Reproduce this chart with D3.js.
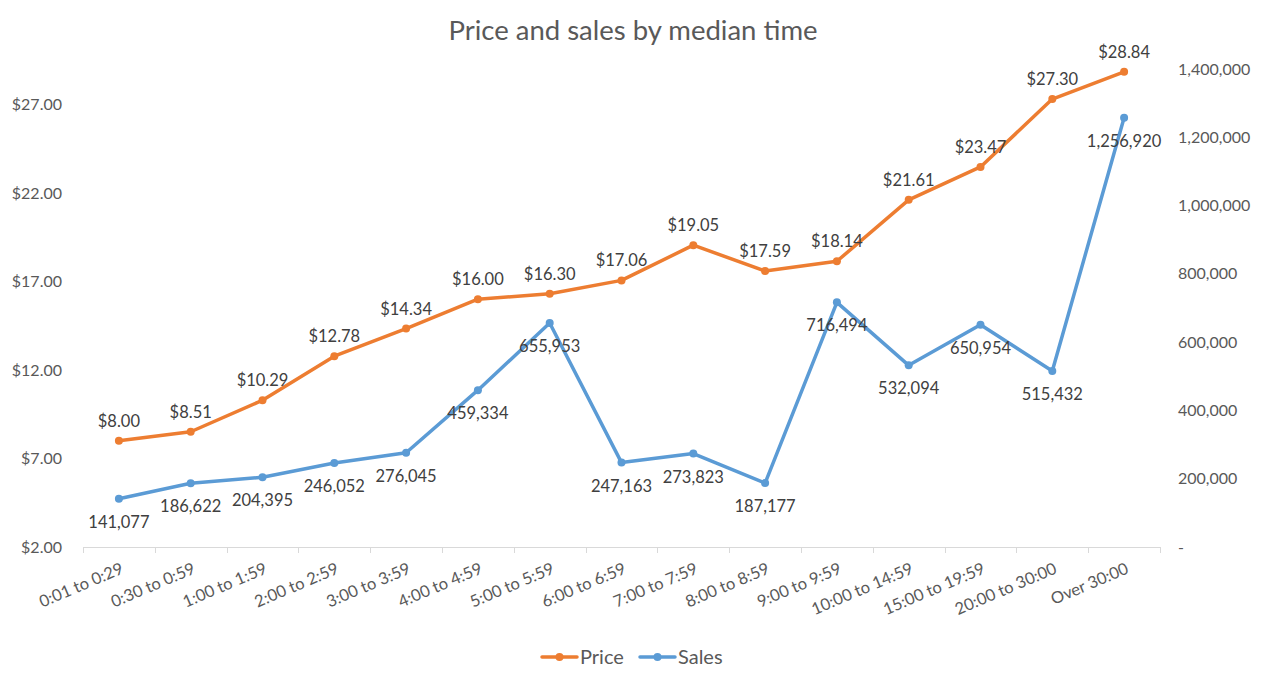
<!DOCTYPE html>
<html>
<head>
<meta charset="utf-8">
<script src="https://cdn.jsdelivr.net/npm/d3@7"></script>
<style>
  html, body { margin: 0; padding: 0; background: #fff; }
  svg { display: block; }
  text { font-family: Lato, "Open Sans", sans-serif; }
</style>
</head>
<body>
<svg id="chart" width="1265" height="686"></svg>
<script>
const categories = ["0:01 to 0:29","0:30 to 0:59","1:00 to 1:59","2:00 to 2:59","3:00 to 3:59","4:00 to 4:59","5:00 to 5:59","6:00 to 6:59","7:00 to 7:59","8:00 to 8:59","9:00 to 9:59","10:00 to 14:59","15:00 to 19:59","20:00 to 30:00","Over 30:00"];
const priceValues = [8.00, 8.51, 10.29, 12.78, 14.34, 16.00, 16.30, 17.06, 19.05, 17.59, 18.14, 21.61, 23.47, 27.30, 28.84];
const salesValues = [141077, 186622, 204395, 246052, 276045, 459334, 655953, 247163, 273823, 187177, 716494, 532094, 650954, 515432, 1256920];
const priceTicks = [2, 7, 12, 17, 22, 27];
const salesTicks = [0, 200000, 400000, 600000, 800000, 1000000, 1200000, 1400000];
const seriesNames = ["Price", "Sales"];
const title = "Price and sales by median time";

const colors = { Price: "#ED7D31", Sales: "#5B9BD5" };
const svg = d3.select("#chart");
const pLeft = 83, pRight = 1160, pTop = 69, pBottom = 547;

const x = d3.scaleBand().domain(categories).range([pLeft, pRight]).padding(0);
const yL = d3.scaleLinear().domain([2, 29]).range([pBottom, pTop]);
const yR = d3.scaleLinear().domain([0, 1400000]).range([pBottom, pTop]);
const cx = d => x(d) + x.bandwidth() / 2;

// Title
svg.append("text").attr("x", 633).attr("y", 40).attr("text-anchor", "middle")
  .attr("fill", "#595959").style("font-size", "27.5px").text(title);

// Left axis
const fmtPrice = d3.format("$.2f");
const axL = d3.axisLeft(yL).tickValues(priceTicks).tickFormat(fmtPrice).tickSize(0).tickPadding(21);
const gL = svg.append("g").attr("transform", `translate(${pLeft},0)`).call(axL);
gL.select(".domain").remove();
gL.selectAll("text").attr("fill", "#595959").style("font-size", "16px").style("font-family", "Lato, sans-serif");

// Right axis
const fmtSales = d => d === 0 ? "-" : d3.format(",")(d);
const axR = d3.axisRight(yR).tickValues(salesTicks).tickFormat(fmtSales).tickSize(0).tickPadding(18);
const gR = svg.append("g").attr("transform", `translate(${pRight},0)`).call(axR);
gR.select(".domain").remove();
gR.selectAll("text").attr("fill", "#595959").style("font-size", "16px").style("font-family", "Lato, sans-serif");

// Bottom axis line + ticks at band boundaries
const gB = svg.append("g");
gB.append("line").attr("x1", pLeft).attr("x2", pRight).attr("y1", pBottom + 0.5).attr("y2", pBottom + 0.5)
  .attr("stroke", "#D9D9D9").attr("stroke-width", 1);
const bounds = categories.map(c => x(c)).concat([pRight]);
gB.selectAll("line.tk").data(bounds).join("line").attr("class", "tk")
  .attr("x1", d => Math.round(d) + 0.5).attr("x2", d => Math.round(d) + 0.5)
  .attr("y1", pBottom).attr("y2", pBottom + 6).attr("stroke", "#D9D9D9");
gB.selectAll("text.cat").data(categories).join("text").attr("class", "cat")
  .attr("transform", d => `translate(${cx(d) + 1},${pBottom + 15}) rotate(-23)`)
  .attr("text-anchor", "end").attr("dy", "0.71em")
  .attr("fill", "#595959").style("font-size", "16.5px").text(d => d);

// Lines
function drawSeries(values, y, color) {
  const line = d3.line().x((d, i) => cx(categories[i])).y(d => y(d));
  svg.append("path").datum(values).attr("d", line).attr("fill", "none")
    .attr("stroke", color).attr("stroke-width", 3.5).attr("stroke-linejoin", "round").attr("stroke-linecap", "round");
  svg.append("g").selectAll("circle").data(values).join("circle")
    .attr("cx", (d, i) => cx(categories[i])).attr("cy", d => y(d)).attr("r", 4).attr("fill", color);
}
drawSeries(priceValues, yL, colors.Price);
drawSeries(salesValues, yR, colors.Sales);

// Data labels
svg.append("g").selectAll("text").data(priceValues).join("text")
  .attr("x", (d, i) => cx(categories[i])).attr("y", d => yL(d) - 14)
  .attr("text-anchor", "middle").attr("fill", "#404040").style("font-size", "16.5px")
  .text(d => fmtPrice(d));
svg.append("g").selectAll("text").data(salesValues).join("text")
  .attr("x", (d, i) => cx(categories[i])).attr("y", d => yR(d) + 29)
  .attr("text-anchor", "middle").attr("fill", "#404040").style("font-size", "16.5px")
  .text(d => d3.format(",")(d));

// Legend
const legend = svg.append("g");
const legendItems = [{ name: seriesNames[0], x0: 542 }, { name: seriesNames[1], x0: 640 }];
legendItems.forEach(it => {
  const c = colors[it.name];
  legend.append("line").attr("x1", it.x0).attr("x2", it.x0 + 35).attr("y1", 657).attr("y2", 657)
    .attr("stroke", c).attr("stroke-width", 3.5).attr("stroke-linecap", "round");
  legend.append("circle").attr("cx", it.x0 + 17.5).attr("cy", 657).attr("r", 4).attr("fill", c);
  legend.append("text").attr("x", it.x0 + 38).attr("y", 664).attr("fill", "#595959")
    .style("font-size", "20px").text(it.name);
});
</script>
</body>
</html>
